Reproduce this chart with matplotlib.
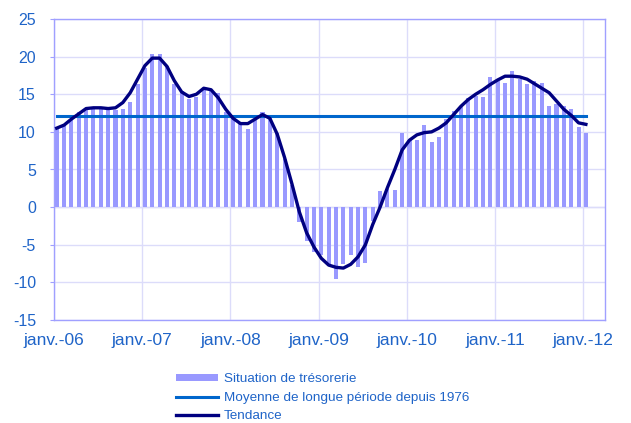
import numpy as np
import matplotlib
matplotlib.use("Agg")
import matplotlib.pyplot as plt

plt.rcParams['font.family'] = ['Liberation Sans', 'DejaVu Sans']
plt.rcParams['axes.unicode_minus'] = False

# tick labels (one per january)
year_labels = ["janv.-06", "janv.-07", "janv.-08", "janv.-09", "janv.-10", "janv.-11", "janv.-12"]

# monthly values jan 2006 -> jan 2012
tresorerie = [10.4, 11.0, 11.6, 12.6, 13.0, 13.1, 13.1, 13.0, 12.9, 13.1, 14.0, 16.3,
              18.5, 20.4, 20.3, 18.8, 16.3, 15.4, 14.4, 14.7, 15.7, 15.6, 15.2, 12.7,
              11.8, 11.1, 10.4, 11.7, 12.6, 11.8, 9.9, 6.4, 3.0, -2.0, -4.5, -5.9,
              -6.4, -7.8, -9.5, -7.5, -6.3, -7.9, -7.4, -1.8, 2.1, 2.4, 2.3, 9.9,
              8.9, 8.9, 10.9, 8.7, 9.3, 11.7, 12.8, 13.3, 14.5, 14.8, 14.7, 17.3,
              16.7, 16.5, 18.1, 17.0, 16.3, 16.8, 16.5, 13.5, 13.7, 13.4, 13.0, 10.6,
              9.9]

tendance = [10.5, 10.9, 11.7, 12.4, 13.1, 13.2, 13.2, 13.1, 13.2, 13.9, 15.2, 17.0,
            18.8, 19.8, 19.8, 18.7, 16.8, 15.3, 14.7, 15.0, 15.8, 15.6, 14.5, 13.0,
            11.8, 11.1, 11.1, 11.7, 12.3, 11.8, 9.7, 6.6, 3.1, -0.6, -3.4, -5.3,
            -6.8, -7.7, -8.0, -8.1, -7.6, -6.6, -5.0, -2.3, 0.0, 2.6, 5.0, 7.6,
            8.9, 9.6, 9.9, 10.0, 10.5, 11.2, 12.3, 13.4, 14.3, 15.0, 15.6, 16.3,
            16.9, 17.4, 17.4, 17.3, 17.0, 16.4, 15.8, 15.2, 14.1, 13.0, 12.2, 11.2,
            11.0]

moyenne = 12.1

months = np.arange(len(tresorerie))
blue_txt = "#1F64C8"
frame_col = "#A0A0FF"
grid_col = "#DCDCFA"

fig = plt.figure(figsize=(6.31, 4.23), dpi=100)
ax = fig.add_axes([54/631, 1-320/423, (605-54)/631, (320-19)/423])

bars = ax.bar(months, tresorerie, width=0.55, color="#9999FF", label="Situation de trésorerie", zorder=2)
l_moy, = ax.plot([months[0], months[-1]], [moyenne, moyenne], color="#0066CC", lw=2.2,
                 label="Moyenne de longue période depuis 1976", zorder=3)
l_tend, = ax.plot(months, tendance, color="#000080", lw=2.4, label="Tendance", zorder=4)

off = 0.37
ax.set_xlim(-off, 74.6)
ax.set_ylim(-15, 25)
ax.set_xticks(np.arange(0, 73, 12) - off)
ax.set_xticklabels(year_labels)
ax.set_yticks(np.arange(-15, 26, 5))

ax.grid(True, color=grid_col, lw=1.0, zorder=0)
ax.axhline(0, color=grid_col, lw=1.0, zorder=1)
for s in ax.spines.values():
    s.set_color(frame_col)
    s.set_linewidth(1.0)

ax.tick_params(axis='x', length=0, pad=9, labelsize=12.5, labelcolor=blue_txt)
ax.tick_params(axis='y', length=3, color=frame_col, pad=10, labelsize=11.5, labelcolor=blue_txt)

leg = fig.legend([bars, l_moy, l_tend],
                 ["Situation de trésorerie", "Moyenne de longue période depuis 1976", "Tendance"],
                 loc='upper left', bbox_to_anchor=(176/631, 1-373/423), frameon=False,
                 fontsize=9.7, handlelength=3.1, handleheight=0.45, handletextpad=0.45,
                 labelspacing=0.5, borderpad=0, borderaxespad=0)
for t in leg.get_texts():
    t.set_color(blue_txt)

fig.savefig("out.png", dpi=100)
